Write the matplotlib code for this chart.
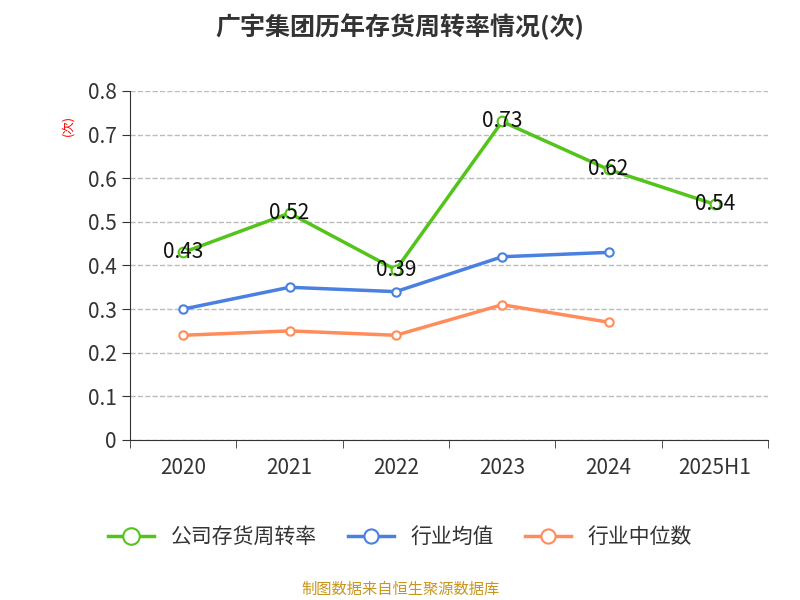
import matplotlib.pyplot as plt
from matplotlib import font_manager

cjk = [f.name for f in font_manager.fontManager.ttflist if 'CJK' in f.name or 'Noto Sans SC' in f.name]
plt.rcParams['font.family'] = (['Noto Sans CJK SC'] + cjk[:1] + ['DejaVu Sans'])

years = ['2020', '2021', '2022', '2023', '2024', '2025H1']
company = [0.43, 0.52, 0.39, 0.73, 0.62, 0.54]
ind_avg = [0.30, 0.35, 0.34, 0.42, 0.43]
ind_med = [0.24, 0.25, 0.24, 0.31, 0.27]

fig = plt.figure(figsize=(8, 6), dpi=100)
ax = fig.add_axes([0.1625, 0.2667, 0.7975, 0.5817])

x = list(range(len(years)))
ax.plot(x, company, color='#52c41a', lw=2.5, marker='o', ms=7, mfc='white', mew=1.5, label='公司存货周转率')
ax.plot(x[:5], ind_avg, color='#4a80e0', lw=2.5, marker='o', ms=6, mfc='white', mew=1.5, label='行业均值')
ax.plot(x[:5], ind_med, color='#ff8c5a', lw=2.5, marker='o', ms=6, mfc='white', mew=1.5, label='行业中位数')
for i, v in enumerate(company):
    ax.text(i, v, f'{v:.2f}', ha='center', va='center', fontsize=15, color='#111111')

ax.set_xlim(-0.5, 5.5)
ax.set_ylim(0, 0.8)
ax.set_yticks([0, 0.1, 0.2, 0.3, 0.4, 0.5, 0.6, 0.7, 0.8])
ax.set_yticklabels(['0', '0.1', '0.2', '0.3', '0.4', '0.5', '0.6', '0.7', '0.8'])
ax.set_xticks(x)
ax.set_xticklabels(years)
ax.set_xticks([i - 0.5 for i in range(7)], minor=True)
ax.tick_params(axis='x', which='major', length=0, labelsize=15, colors='#333333', pad=12)
ax.tick_params(axis='x', which='minor', length=6, color='#333333')
ax.tick_params(axis='y', labelsize=15, colors='#333333', length=6)
ax.grid(axis='y', ls='--', color='#bbbbbb', lw=1)
for s in ['top', 'right']:
    ax.spines[s].set_visible(False)
ax.spines['left'].set_color('#333333')
ax.spines['bottom'].set_color('#333333')

fig.text(0.085, 0.79, '(次)', color='red', fontsize=9, rotation=90, ha='center', va='center')
fig.text(0.5, 0.955, '广宇集团历年存货周转率情况(次)', ha='center', va='center', fontsize=18, fontweight='bold', color='#333333')
leg = fig.legend(loc='center', bbox_to_anchor=(0.5, 0.105), ncol=3, frameon=False, fontsize=15,
                 handlelength=2.2, columnspacing=1.5, markerscale=1.7)
for t in leg.get_texts():
    t.set_color('#333333')
fig.text(0.5, 0.018, '制图数据来自恒生聚源数据库', ha='center', va='center', fontsize=11, color='#c8961e')

fig.savefig('out.png')
